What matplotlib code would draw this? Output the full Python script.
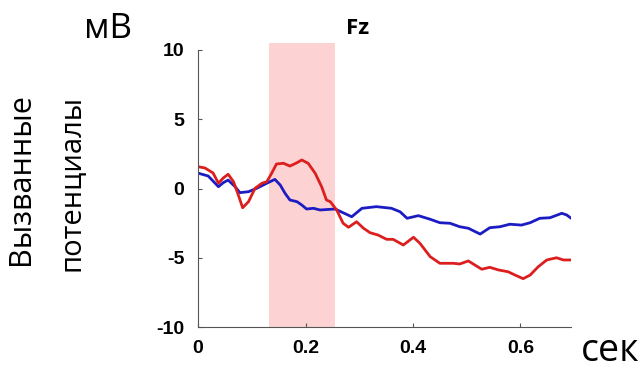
import matplotlib
matplotlib.use("Agg")
import matplotlib.pyplot as plt

# время (сек) и значения (мВ)
t_red = [0.001, 0.013, 0.028, 0.038, 0.047, 0.056, 0.066, 0.075, 0.083, 0.094,
         0.106, 0.119, 0.128, 0.137, 0.146, 0.159, 0.171, 0.184, 0.193, 0.205,
         0.218, 0.230, 0.239, 0.246, 0.258, 0.270, 0.280, 0.295, 0.308, 0.320,
         0.335, 0.351, 0.363, 0.382, 0.401, 0.413, 0.432, 0.450, 0.475, 0.487,
         0.503, 0.515, 0.528, 0.543, 0.559, 0.577, 0.590, 0.605, 0.618, 0.633,
         0.649, 0.667, 0.680, 0.693]
v_red = [1.57, 1.48, 1.12, 0.38, 0.76, 1.03, 0.49, -0.47, -1.39, -0.95,
         0.01, 0.38, 0.49, 1.10, 1.77, 1.82, 1.62, 1.86, 2.06, 1.82,
         1.10, 0.13, -0.83, -0.95, -1.55, -2.51, -2.80, -2.40, -2.87, -3.19,
         -3.36, -3.67, -3.67, -4.08, -3.52, -3.96, -4.92, -5.40, -5.40, -5.45,
         -5.23, -5.52, -5.83, -5.69, -5.88, -6.01, -6.25, -6.51, -6.25, -5.65,
         -5.16, -5.00, -5.16, -5.16]

t_blue = [0.001, 0.019, 0.038, 0.047, 0.056, 0.069, 0.078, 0.094, 0.109, 0.128,
          0.143, 0.153, 0.162, 0.171, 0.184, 0.193, 0.202, 0.215, 0.227, 0.255,
          0.270, 0.286, 0.305, 0.332, 0.360, 0.376, 0.389, 0.410, 0.432, 0.450,
          0.469, 0.487, 0.503, 0.525, 0.543, 0.562, 0.580, 0.602, 0.618, 0.636,
          0.655, 0.677, 0.686, 0.693]
v_blue = [1.10, 0.90, 0.13, 0.42, 0.61, 0.13, -0.30, -0.23, 0.01, 0.38,
          0.66, 0.25, -0.35, -0.83, -0.95, -1.19, -1.48, -1.43, -1.55, -1.48,
          -1.75, -2.04, -1.43, -1.31, -1.43, -1.68, -2.15, -1.96, -2.22, -2.47,
          -2.51, -2.76, -2.87, -3.29, -2.83, -2.76, -2.58, -2.64, -2.47, -2.15,
          -2.11, -1.79, -1.91, -2.11]

window = (0.132, 0.255)
xticks = [0, 0.2, 0.4, 0.6]
yticks = [-10, -5, 0, 5, 10]

fig = plt.figure(figsize=(6.44, 3.69), dpi=100)
ax = fig.add_axes([0.3075, 0.1138, 0.5791, 0.7507])

ax.axvspan(window[0], window[1], ymin=0, ymax=1.025, color="#fdd2d3",
           lw=0, clip_on=False, zorder=0)
ax.plot(t_blue, v_blue, color="#1c1cc4", lw=2.0)
ax.plot(t_red, v_red, color="#dc1e1e", lw=2.0)

ax.set_xlim(0, 0.694)
ax.set_ylim(-10, 10)
ax.set_xticks(xticks)
ax.set_xticklabels(["0", "0.2", "0.4", "0.6"])
ax.set_yticks(yticks)
ax.set_yticklabels([str(v) for v in yticks])
for s in ["top", "right"]:
    ax.spines[s].set_visible(False)
for s in ["left", "bottom"]:
    ax.spines[s].set_color("#555555")
    ax.spines[s].set_linewidth(0.8)
ax.tick_params(direction="in", length=3, color="#555555", width=0.8)
ax.tick_params(axis="x", pad=9)
ax.tick_params(axis="y", pad=10)
for lab in ax.get_xticklabels() + ax.get_yticklabels():
    lab.set_fontfamily("Liberation Sans")
    lab.set_fontweight("bold")
    lab.set_fontsize(14)

fam = ["Open Sans", "DejaVu Sans"]
fig.text(0.555, 0.922, "Fz", fontfamily=fam, fontweight="bold", fontsize=16,
         ha="center", va="center")
fig.text(0.168, 0.922, "мВ", fontfamily=fam, fontsize=25,
         ha="center", va="center")
fig.text(0.948, 0.05, "сек", fontfamily=fam, fontsize=27,
         ha="center", va="center")
fig.text(0.033, 0.515, "Вызванные", fontfamily=fam, fontsize=22,
         rotation=90, ha="center", va="center")
fig.text(0.110, 0.505, "потенциалы", fontfamily=fam, fontsize=21,
         rotation=90, ha="center", va="center")

fig.savefig("out.png", dpi=100)
